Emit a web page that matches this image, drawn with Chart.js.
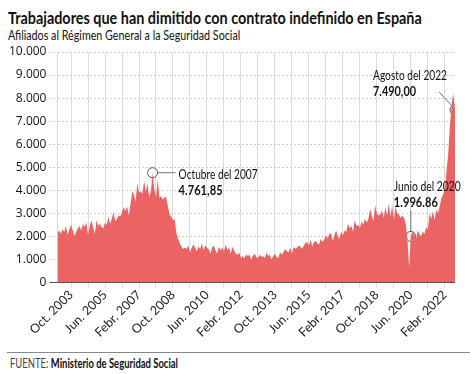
<!DOCTYPE html>
<html lang="es">
<head>
<meta charset="utf-8">
<script src="https://cdn.jsdelivr.net/npm/chart.js@4.4.0/dist/chart.umd.min.js"></script>
<style>
  html, body { margin: 0; padding: 0; background: #fff; }
  body { width: 474px; height: 374px; position: relative; overflow: hidden;
         font-family: Lato, sans-serif; color: #111; }
  .ajustado { position: absolute; left: 8px; white-space: nowrap; transform-origin: 0 50%; }
  #titulo { top: 7px; font-size: 17px; font-weight: bold; }
  #subtitulo { top: 27px; font-size: 13.5px; }
  #grafico { position: absolute; left: 0; top: 40px; width: 474px; height: 308px; }
  #linea { position: absolute; left: 7px; right: 4px; top: 352px; border-top: 1px solid #888; }
  #pie { top: 356px; left: 10px; font-size: 12.5px; }
  #pie span { color: #444; }
</style>
</head>
<body>
<div id="titulo" class="ajustado" data-ancho="414">Trabajadores que han dimitido con contrato indefinido en España</div>
<div id="subtitulo" class="ajustado" data-ancho="232">Afiliados al Régimen General a la Seguridad Social</div>
<div id="grafico"><canvas id="lienzo"></canvas></div>
<div id="linea"></div>
<div id="pie" class="ajustado" data-ancho="168"><span>FUENTE:</span> <b>Ministerio de Seguridad Social</b></div>

<script>
// meses contados desde oct. 2003; la serie empieza en feb. 2003
const mesInicio = -8;

// bajas voluntarias mensuales (feb. 2003 - ago. 2022)
const valores = [
  2150, 2250, 2100, 2300, 2200, 2450, 2050, 2300, 2500, 2250, 2000,            // 2003
  2200, 2350, 2450, 2250, 2550, 2400, 2620, 2050, 2450, 2700, 2400, 2100,      // 2004
  2700, 2450, 2550, 2400, 2350, 2600, 2500, 2850, 2550, 2750, 3050, 2650,      // 2005
  2750, 2900, 2850, 3050, 3250, 3100, 3300, 2900, 3400, 3950, 3800, 3500,      // 2006
  4300, 3900, 3950, 3850, 4400, 3950, 4300, 3700, 3950, 4762, 4050, 3700,      // 2007
  4500, 3650, 3750, 3600, 3700, 3700, 3300, 2950, 2850, 2700, 2750, 2150,      // 2008
  1900, 1700, 1550, 1450, 1500, 1450, 1600, 1300, 1500, 1650, 1500, 1350,      // 2009
  1550, 1450, 1700, 1400, 1600, 1500, 1450, 1250, 1500, 1600, 1400, 1250,      // 2010
  1550, 1400, 1500, 1350, 1650, 1400, 1500, 1250, 1550, 1400, 1250, 1200,      // 2011
  1300, 1050, 1150, 1050, 1200, 1150, 1200, 1000, 1150, 1250, 1100, 1050,      // 2012
  1200, 1100, 1150, 1050, 1300, 1150, 1200, 1000, 1150, 1250, 1100, 1050,      // 2013
  1320, 1200, 1300, 1450, 1350, 1300, 1500, 1250, 1550, 1450, 1500, 1600,      // 2014
  1550, 1450, 1600, 1700, 1750, 1600, 1850, 1550, 1750, 1800, 1700, 1650,      // 2015
  1900, 1750, 1850, 2050, 1900, 2100, 2150, 1800, 2050, 2250, 2000, 1900,      // 2016
  2200, 2050, 2250, 2200, 2550, 2350, 2450, 2200, 2700, 2450, 2500, 2350,      // 2017
  2650, 2500, 2780, 2600, 2750, 3200, 2900, 2650, 3350, 3000, 2900, 2950,      // 2018
  3130, 2800, 3270, 2900, 3420, 2850, 3350, 2700, 3300, 3000, 2950, 2800,      // 2019
  2910, 2800, 2550, 1900, 650, 1997, 2250, 2100, 1850, 2250, 2100, 2000,       // 2020
  2200, 2100, 2400, 2300, 3000, 2750, 3100, 2700, 3150, 3000, 3300, 3650,      // 2021
  3800, 4100, 4800, 5600, 6800, 7700, 8200, 7490                               // 2022
];

// una etiqueta cada 20 meses, rejilla cada 10
const etiquetasEje = [
  'Oct. 2003', 'Jun. 2005', 'Febr. 2007', 'Oct. 2008', 'Jun. 2010', 'Febr. 2012',
  'Oct. 2013', 'Jun. 2015', 'Febr. 2017', 'Oct. 2018', 'Jun. 2020', 'Febr. 2022'
];
const marcasRejilla = [0, 10, 20, 30, 40, 50, 60, 70, 80, 90, 100, 110,
  120, 130, 140, 150, 160, 170, 180, 190, 200, 210, 220];

const destacadosMes = [48, 200, 226];
const destacadosTexto = ['Octubre del 2007', 'Junio del 2020', 'Agosto del 2022'];
const destacadosValor = ['4.761,85', '1.996.86', '7.490,00'];

// textos del html estrechados a la anchura del original
document.querySelectorAll('.ajustado').forEach(el => {
  el.style.transform = 'scaleX(' + (Number(el.dataset.ancho) / el.offsetWidth) + ')';
});

const puntos = valores.map((v, i) => ({ x: mesInicio + i, y: v }));
const circulos = destacadosMes.map(m => ({ x: m, y: valores[m - mesInicio] }));

// textos, guias y linea base
const anotaciones = {
  id: 'anotaciones',
  afterDatasetsDraw(chart) {
    const { ctx, chartArea, scales: { x, y } } = chart;
    ctx.save();

    // linea del cero
    const y0 = Math.round(y.getPixelForValue(0)) + 0.5;
    ctx.strokeStyle = '#555';
    ctx.lineWidth = 1;
    ctx.beginPath();
    ctx.moveTo(chartArea.left - 8, y0);
    ctx.lineTo(chartArea.right, y0);
    ctx.stroke();

    ctx.strokeStyle = '#777';
    ctx.fillStyle = '#111';
    ctx.textBaseline = 'middle';
    ctx.textAlign = 'left';

    circulos.forEach((c, i) => {
      const px = x.getPixelForValue(c.x);
      const py = y.getPixelForValue(c.y);
      let tx, ty, guia, anchos;
      if (i === 0) {
        tx = px + 26; ty = py + 2;
        guia = [px + 5, py, px + 23, py];
        anchos = [79, 44];
      } else if (i === 1) {
        tx = px - 17; ty = py - 50;
        guia = [px, py - 26, px, py - 5];
        anchos = [67, 44];
      } else {
        tx = px - 82; ty = py - 34;
        guia = [px - 16, py - 18, px - 3, py - 4];
        anchos = [74, 43];
      }
      ctx.beginPath();
      ctx.moveTo(guia[0], guia[1]);
      ctx.lineTo(guia[2], guia[3]);
      ctx.stroke();
      ctx.font = '13px Lato, sans-serif';
      ctx.fillText(destacadosTexto[i], tx, ty, anchos[0]);
      ctx.font = 'bold 13px Lato, sans-serif';
      ctx.fillText(destacadosValor[i], tx, ty + 16, anchos[1]);
    });
    ctx.restore();
  }
};

new Chart(document.getElementById('lienzo'), {
  type: 'line',
  data: {
    datasets: [{
      data: puntos,
      fill: 'origin',
      backgroundColor: '#ec6363',
      borderWidth: 0,
      pointRadius: 0,
      tension: 0
    }, {
      data: circulos,
      showLine: false,
      pointRadius: 5,
      pointBorderWidth: 1,
      pointBorderColor: '#555',
      pointBackgroundColor: 'rgba(255,255,255,0.35)'
    }]
  },
  options: {
    responsive: true,
    maintainAspectRatio: false,
    animation: false,
    layout: { padding: { left: 6, right: 19, top: 12, bottom: 8 } },
    plugins: { legend: { display: false }, tooltip: { enabled: false } },
    scales: {
      x: {
        type: 'linear',
        min: mesInicio,
        max: mesInicio + valores.length - 1,
        afterBuildTicks: axis => { axis.ticks = marcasRejilla.map(v => ({ value: v })); },
        ticks: {
          autoSkip: false,
          maxRotation: 45,
          minRotation: 45,
          padding: 0,
          color: '#222',
          font: { family: 'Lato, sans-serif', size: 12.5 },
          callback: v => (v % 20 === 0 ? etiquetasEje[v / 20] : '')
        },
        grid: { color: '#dcdcdc', tickLength: 5 },
        border: { display: false }
      },
      y: {
        min: 0,
        max: 10000,
        ticks: {
          stepSize: 1000,
          padding: 3,
          color: '#111',
          font: { family: '"Open Sans", sans-serif', size: 12 },
          callback: v => (v === 0 ? '0' : (v / 1000) + '.000')
        },
        grid: {
          color: '#cfcfcf',
          tickLength: 8,
          tickBorderDash: [2, 2]
        },
        border: {
          color: '#d6d6d6',
          dash: ctx => (ctx.type === 'tick' ? [2, 2] : [])
        }
      }
    }
  },
  plugins: [anotaciones]
});
</script>
</body>
</html>
